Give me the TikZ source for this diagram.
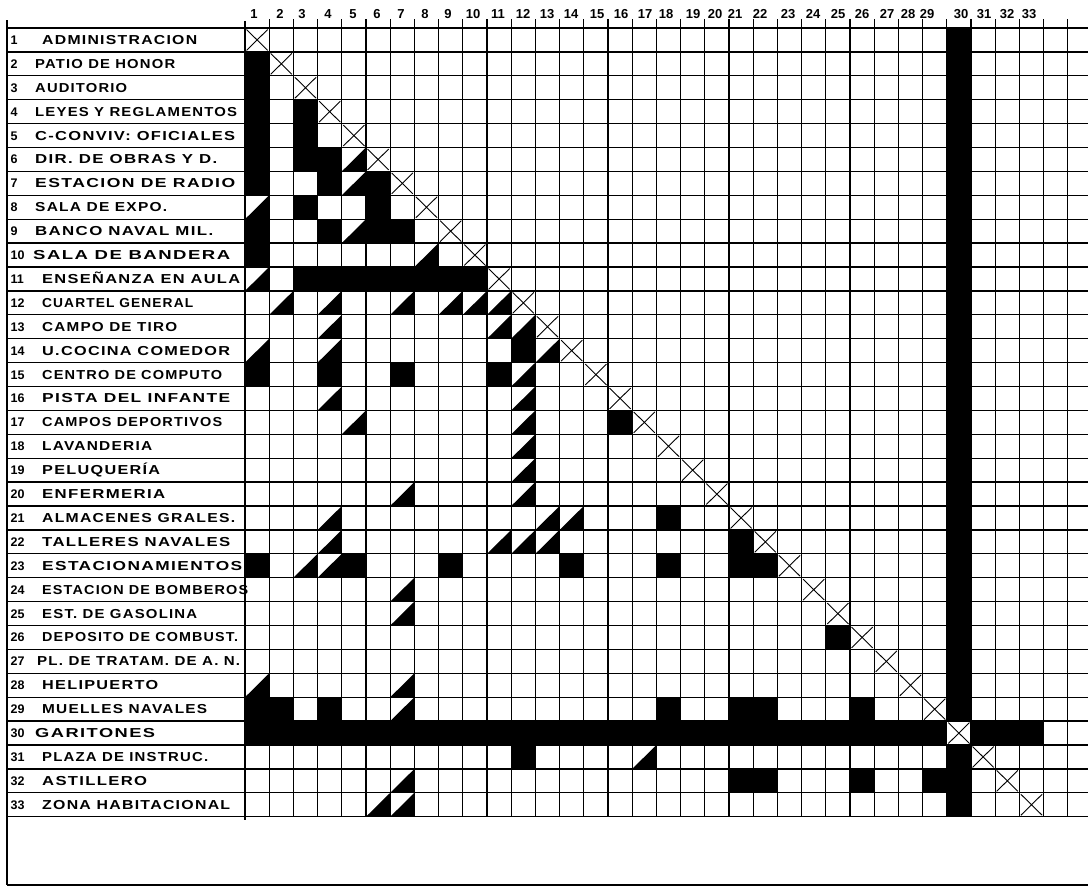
\documentclass[tikz,border=0pt]{standalone}
\usepackage{fontspec}
\usepackage{graphicx}
\newfontfamily\lblf{Liberation Sans}[LetterSpace=8]
\newfontfamily\numf{Liberation Sans}
\newsavebox\lblbox
\newcommand\fitto[2]{\sbox\lblbox{#2}\pgfmathsetmacro\fitratio{(#1)/\the\wd\lblbox}\scalebox{\fitratio}[1]{\usebox\lblbox}}
\begin{document}
\begin{tikzpicture}[x=1pt,y=-1pt,
  gridln/.style={line width=1.3pt},
  crossln/.style={line width=0.9pt},
  lbl/.style={anchor=base west,inner sep=0pt,font=\lblf\bfseries\fontsize{13}{14}\selectfont},
  rnum/.style={anchor=base west,inner sep=0pt,font=\numf\bfseries\fontsize{12.5}{13}\selectfont},
  hdr/.style={anchor=base,inner sep=0pt,font=\numf\bfseries\fontsize{13}{14}\selectfont}]
\def\cw{24.2}\def\rh{23.9}\def\gx{245}\def\gy{28}
\useasboundingbox (0,0) rectangle (1088,887);
\fill[white] (0,0) rectangle (1088,887);
% full black cells
\foreach \r/\c in {2/1,3/1,4/1,4/3,5/1,5/3,6/1,6/3,6/4,7/1,7/4,7/6,8/3,8/6,9/1,9/4,9/6,9/7,10/1,
  14/12,15/1,15/4,15/7,15/11,17/16,21/18,22/21,23/1,23/5,23/9,23/14,23/18,23/21,23/22,26/25,
  29/1,29/2,29/4,29/18,29/21,29/22,29/26,31/12,32/21,32/22,32/26,32/29}
  \fill ({\gx+\cw*(\c-1)},{\gy+\rh*(\r-1)}) rectangle ++(\cw,\rh);
% row 11 bar
\fill ({\gx+\cw*2},{\gy+\rh*10}) rectangle ++({\cw*8},\rh);
% row 30 and column 30 bars
\fill (\gx,{\gy+\rh*29}) rectangle ++({\cw*29},\rh);
\fill ({\gx+\cw*30},{\gy+\rh*29}) rectangle ++({\cw*3},\rh);
\fill ({\gx+\cw*29},\gy) rectangle ++(\cw,{\rh*29});
\fill ({\gx+\cw*29},{\gy+\rh*30}) rectangle ++(\cw,{\rh*3});
% half cells (black lower-right triangle)
\foreach \r/\c in {6/5,7/5,8/1,9/5,10/8,11/1,12/2,12/4,12/7,12/9,12/10,12/11,13/4,13/11,13/12,
  14/1,14/4,14/13,15/12,16/4,16/12,17/5,17/12,18/12,19/12,20/7,20/12,21/4,21/13,21/14,
  22/4,22/11,22/12,22/13,23/3,23/4,24/7,25/7,28/1,28/7,29/7,31/17,32/7,33/6,33/7}
  \fill ({\gx+\cw*(\c-1)},{\gy+\rh*\r}) -- ++(\cw,0) -- ++(0,-\rh) -- cycle;
% diagonal crosses
\foreach \k in {1,...,33}
  \draw[crossln] ({\gx+\cw*(\k-1)+1.5},{\gy+\rh*(\k-1)+1.5}) -- ++({\cw-3},{\rh-3})
                 ({\gx+\cw*(\k-1)+1.5},{\gy+\rh*\k-1.5}) -- ++({\cw-3},{3-\rh});
% grid
\foreach \i in {0,...,33}
  \draw[gridln] (7,{\gy+\rh*\i}) -- (1088,{\gy+\rh*\i});
\draw[line width=1.8pt] (7,\gy) -- (1088,\gy);
\foreach \j in {1,...,34}
  \draw[gridln] ({\gx+\cw*\j},19) -- ({\gx+\cw*\j},{\gy+\rh*33});
\draw[gridln] (\gx,21) -- (\gx,820);
\draw[line width=2pt] (7,20) -- (7,885);
\draw[gridln] (7,885) -- (1088,885);
% column numbers
\foreach \k/\hx in {1/254,2/280,3/302,4/328,5/353,6/377,7/401,8/425,9/448,10/473,11/498,
  12/523,13/547,14/571,15/597,16/621,17/645,18/666,19/693,20/715,21/735,22/760,23/788,
  24/813,25/838,26/862,27/887,28/908,29/927,30/961,31/984,32/1007,33/1029}
  \node[hdr] (h\k) at (\hx,18) {\k};
% row numbers
\foreach \r in {1,...,33}
  \node[rnum] (n\r) at (10.5,{\gy+\rh*(\r-0.5)+4.5}) {\r};
% row labels
\foreach \r/\sx/\ex/\t in {
  1/42/197/ADMINISTRACION,
  2/35/175/PATIO DE HONOR,
  3/35/127/AUDITORIO,
  4/35/237/LEYES Y REGLAMENTOS,
  5/35/235/C-CONVIV: OFICIALES,
  6/35/217/DIR. DE OBRAS Y D.,
  7/35/235/ESTACION DE RADIO,
  8/35/167/SALA DE EXPO.,
  9/35/213/BANCO NAVAL MIL.,
  10/33/230/SALA DE BANDERA,
  11/42/240/ENSEÑANZA EN AULA,
  12/42/193/CUARTEL GENERAL,
  13/42/177/CAMPO DE TIRO,
  14/42/230/U.COCINA COMEDOR,
  15/42/222/CENTRO DE COMPUTO,
  16/42/230/PISTA DEL INFANTE,
  17/42/222/CAMPOS DEPORTIVOS,
  18/42/152/LAVANDERIA,
  19/42/160/PELUQUERÍA,
  20/42/165/ENFERMERIA,
  21/42/235/ALMACENES GRALES.,
  22/42/230/TALLERES NAVALES,
  23/42/242/ESTACIONAMIENTOS,
  24/42/248/ESTACION DE BOMBEROS,
  25/42/197/EST. DE GASOLINA,
  26/42/238/DEPOSITO DE COMBUST.,
  27/37/240/PL. DE TRATAM. DE A. N.,
  28/42/158/HELIPUERTO,
  29/42/207/MUELLES NAVALES,
  30/35/155/GARITONES,
  31/42/208/PLAZA DE INSTRUC.,
  32/42/147/ASTILLERO,
  33/42/230/ZONA HABITACIONAL}
  \node[lbl] (t\r) at (\sx,{\gy+\rh*(\r-0.5)+4.5}) {\fitto{\ex-\sx}{\t}};
\end{tikzpicture}
\end{document}
